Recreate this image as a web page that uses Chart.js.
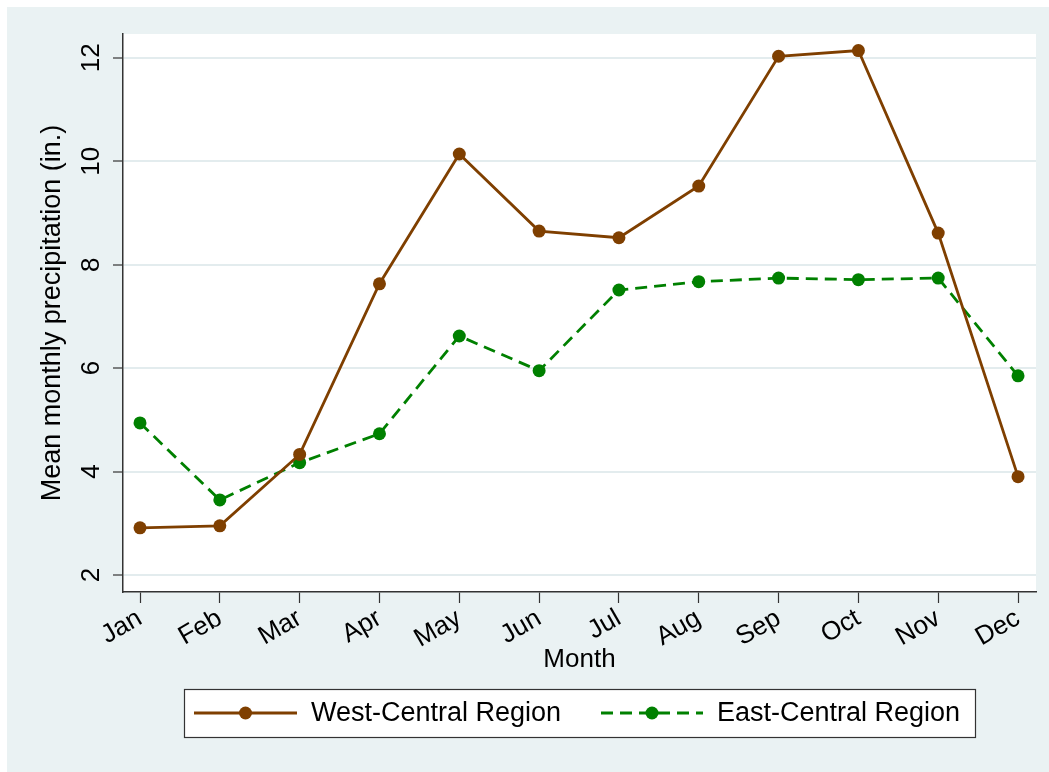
<!DOCTYPE html>
<html>
<head>
<meta charset="utf-8">
<script src="https://cdn.jsdelivr.net/npm/chart.js@4.4.1/dist/chart.umd.min.js"></script>
<style>
    body { margin: 0; background: #ffffff; }
    #frame { position: absolute; left: 7px; top: 7px; width: 1042px; height: 765px; background: #eaf2f3; }
    #wrap { position: absolute; left: 0; top: 0; width: 1049px; height: 772px; }
</style>
</head>
<body>
<div id="frame"></div>
<div id="wrap"><canvas id="precipChart" width="1049" height="772"></canvas></div>
<script>
// Monthly precipitation, inches
const months = ['Jan', 'Feb', 'Mar', 'Apr', 'May', 'Jun', 'Jul', 'Aug', 'Sep', 'Oct', 'Nov', 'Dec'];
const westCentral = [2.91, 2.95, 4.33, 7.63, 10.14, 8.65, 8.52, 9.52, 12.03, 12.14, 8.61, 3.90];
const eastCentral = [4.94, 3.45, 4.17, 4.73, 6.62, 5.95, 7.51, 7.67, 7.74, 7.71, 7.74, 5.85];
const yTicks = [2, 4, 6, 8, 10, 12];
const seriesNames = ['West-Central Region', 'East-Central Region'];

const FONT = 'Liberation Sans, Arial, sans-serif';
const AXIS_COLOR = '#333333';

// white plot region behind the lines
const plotBackground = {
    id: 'plotBackground',
    beforeDraw(chart) {
        const { ctx, chartArea } = chart;
        ctx.save();
        ctx.fillStyle = '#ffffff';
        ctx.fillRect(chartArea.left, chartArea.top, chartArea.right - chartArea.left, chartArea.bottom - chartArea.top);
        ctx.restore();
    }
};

// vertical y tick labels (read bottom to top)
const yLabels = {
    id: 'yLabels',
    afterDraw(chart) {
        const { ctx } = chart;
        const y = chart.scales.y;
        ctx.save();
        ctx.font = '26px ' + FONT;
        ctx.fillStyle = '#000';
        ctx.textAlign = 'center';
        ctx.textBaseline = 'middle';
        y.ticks.forEach(t => {
            const py = y.getPixelForValue(t.value);
            ctx.save();
            ctx.translate(92, py);
            ctx.rotate(-Math.PI / 2);
            ctx.fillText(String(t.value), 0, 0);
            ctx.restore();
        });
        ctx.restore();
    }
};

// boxed legend with line + marker samples
const boxLegend = {
    id: 'boxLegend',
    afterDraw(chart) {
        const { ctx } = chart;
        const box = { left: 184, top: 689, right: 975, bottom: 737 };
        const cy = (box.top + box.bottom) / 2;
        ctx.save();
        ctx.fillStyle = '#ffffff';
        ctx.fillRect(box.left, box.top, box.right - box.left, box.bottom - box.top);
        ctx.strokeStyle = AXIS_COLOR;
        ctx.lineWidth = 1.2;
        ctx.strokeRect(box.left + 0.5, box.top + 0.5, box.right - box.left, box.bottom - box.top);

        const items = [
            { x0: 194, x1: 297, text: 311 },
            { x0: 601, x1: 703, text: 717 }
        ];
        chart.data.datasets.forEach((ds, i) => {
            const it = items[i];
            ctx.strokeStyle = ds.borderColor;
            ctx.lineWidth = ds.borderWidth;
            ctx.setLineDash(ds.borderDash || []);
            ctx.beginPath();
            ctx.moveTo(it.x0, cy);
            ctx.lineTo(it.x1, cy);
            ctx.stroke();
            ctx.setLineDash([]);
            ctx.fillStyle = ds.pointBackgroundColor;
            ctx.beginPath();
            ctx.arc((it.x0 + it.x1) / 2, cy, ds.pointRadius, 0, Math.PI * 2);
            ctx.fill();
            ctx.fillStyle = '#000';
            ctx.font = '27px ' + FONT;
            ctx.textAlign = 'left';
            ctx.textBaseline = 'middle';
            ctx.fillText(ds.label, it.text, cy + 1);
        });
        ctx.restore();
    }
};

const ctx = document.getElementById('precipChart').getContext('2d');
const precipChart = new Chart(ctx, {
    type: 'line',
    data: {
        datasets: [{
            label: seriesNames[0],
            data: westCentral.map((v, i) => ({ x: i, y: v })),
            borderColor: '#7f3f00',
            pointBackgroundColor: '#7f3f00',
            pointBorderColor: '#7f3f00',
            borderWidth: 2.8,
            pointRadius: 6.5,
            pointBorderWidth: 0,
            tension: 0
        }, {
            label: seriesNames[1],
            data: eastCentral.map((v, i) => ({ x: i, y: v })),
            borderColor: '#008000',
            pointBackgroundColor: '#008000',
            pointBorderColor: '#008000',
            borderWidth: 2.8,
            borderDash: [12, 7],
            pointRadius: 6.5,
            pointBorderWidth: 0,
            tension: 0
        }]
    },
    options: {
        responsive: false,
        animation: false,
        layout: {
            padding: { top: 34, right: 13, bottom: 92, left: 0 }
        },
        scales: {
            x: {
                type: 'linear',
                min: -0.213,
                max: 11.225,
                afterBuildTicks: s => { s.ticks = months.map((m, i) => ({ value: i })); },
                afterFit: s => { s.height = 88; },
                grid: {
                    drawOnChartArea: false,
                    drawTicks: true,
                    tickLength: 11,
                    tickColor: AXIS_COLOR,
                    tickWidth: 1.2
                },
                border: { color: AXIS_COLOR, width: 1.5 },
                ticks: {
                    autoSkip: false,
                    minRotation: 30,
                    maxRotation: 30,
                    padding: 0,
                    color: '#000',
                    font: { family: FONT, size: 26 },
                    callback: v => months[v]
                },
                title: {
                    display: true,
                    text: 'Month',
                    color: '#000',
                    font: { family: FONT, size: 26 },
                    padding: { top: 0, bottom: 5 }
                }
            },
            y: {
                min: 1.67,
                max: 12.46,
                afterBuildTicks: s => { s.ticks = yTicks.map(v => ({ value: v })); },
                afterFit: s => { s.width = 123; },
                grid: {
                    color: '#e3ecee',
                    lineWidth: 2,
                    drawTicks: true,
                    tickLength: 10,
                    tickColor: AXIS_COLOR,
                    tickWidth: 1.2
                },
                border: { color: AXIS_COLOR, width: 1.5 },
                ticks: { display: false },
                title: {
                    display: true,
                    text: 'Mean monthly precipitation (in.)',
                    color: '#000',
                    font: { family: FONT, size: 27 },
                    padding: { top: 36, bottom: 0 }
                }
            }
        },
        plugins: {
            legend: { display: false },
            tooltip: { enabled: false }
        }
    },
    plugins: [plotBackground, yLabels, boxLegend]
});
</script>
</body>
</html>
